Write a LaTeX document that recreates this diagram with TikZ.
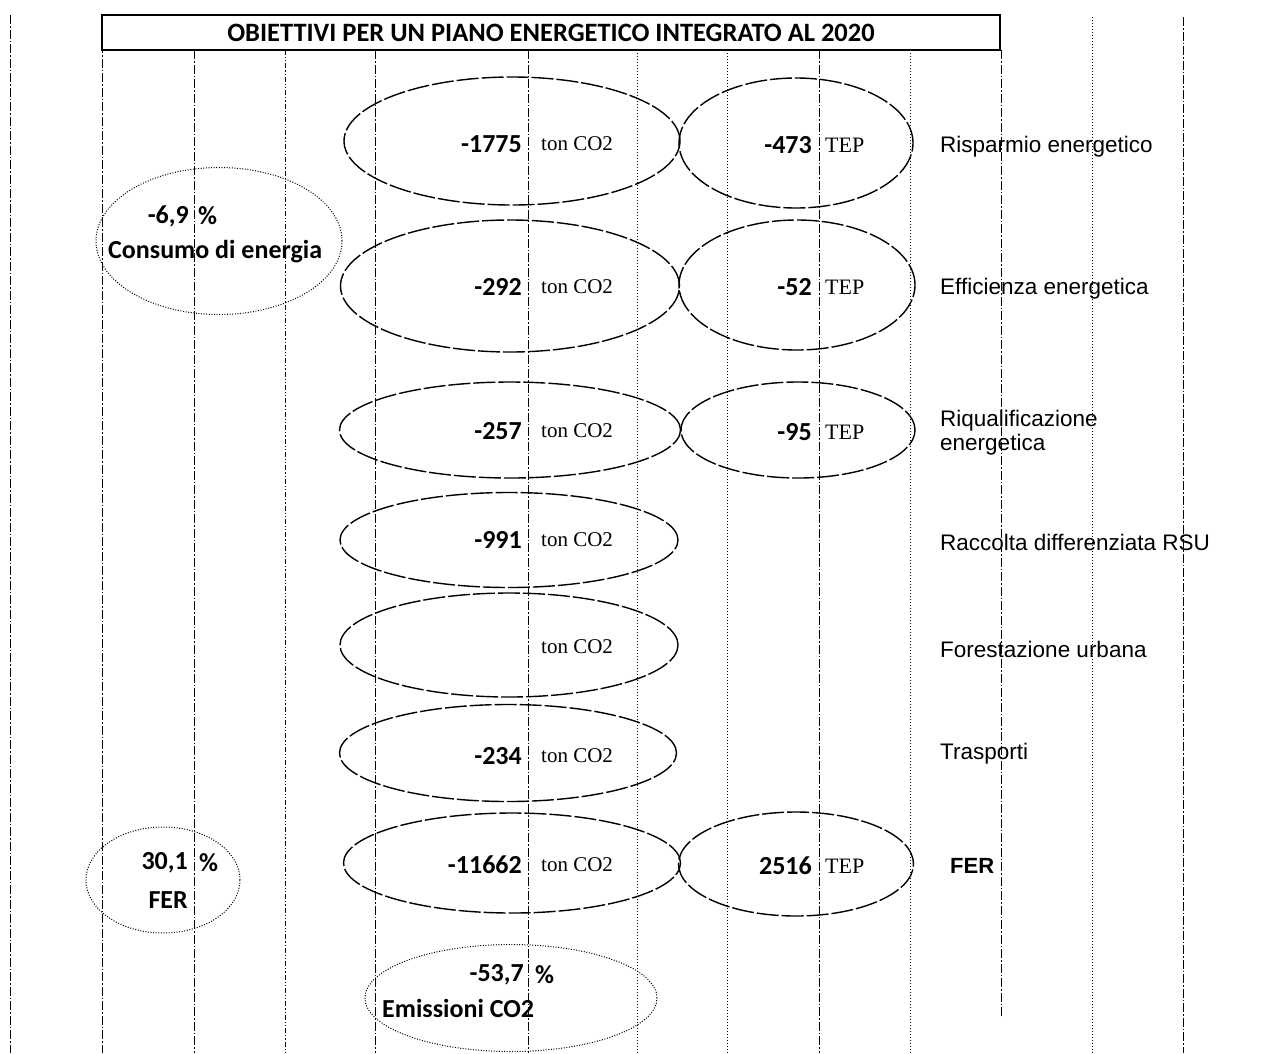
\documentclass[tikz,border=0pt]{standalone}
\usepackage{fontspec}
\setmainfont{Liberation Sans}
\newfontfamily\calib{Carlito}
\newfontfamily\tim{Liberation Serif}
\usetikzlibrary{shapes.geometric}

\begin{document}
\begin{tikzpicture}[x=1pt,y=-1pt,
  cell/.style={ellipse,draw,line width=1.4pt,dash pattern=on 22pt off 3pt,inner sep=0pt},
  goal/.style={ellipse,draw,line width=1pt,dash pattern=on 1pt off 1.6pt,inner sep=0pt},
  num/.style={anchor=east,inner sep=0pt,font=\calib\bfseries\fontsize{26}{28}\selectfont},
  pct/.style={anchor=west,inner sep=0pt,font=\calib\bfseries\fontsize{26}{28}\selectfont},
  unit/.style={anchor=west,inner sep=0pt,font=\tim\fontsize{21}{23}\selectfont},
  tep/.style={anchor=west,inner sep=0pt,font=\tim\fontsize{22}{24}\selectfont},
  lab/.style={anchor=west,inner sep=0pt,align=left,font=\fontsize{22.5}{24}\selectfont},
  ga/.style={line width=1pt,dash pattern=on 9pt off 2pt on 1.5pt off 2pt},
  gb/.style={line width=1pt,dash pattern=on 1.2pt off 1.8pt},
  gc/.style={line width=1pt,dash pattern=on 5pt off 2pt on 1.2pt off 2pt on 1.2pt off 2pt}]
\useasboundingbox (0,0) rectangle (1263,1053);
% grid
\draw[ga] (10,15) -- (10,1053);
\draw[ga] (102,15) -- (102,1053);
\draw[ga] (194,50) -- (194,1053);
\draw[gc] (285,50) -- (285,1053);
\draw[ga] (375,50) -- (375,1053);
\draw[ga] (528,50) -- (528,1053);
\draw[gb] (637,50) -- (637,1053);
\draw[gb] (727,50) -- (727,1053);
\draw[ga] (819,50) -- (819,1053);
\draw[gb] (910,50) -- (910,1053);
\draw[ga] (1001,50) -- (1001,1018);
\draw[gb] (1092,17) -- (1092,1053);
\draw[ga] (1183,17) -- (1183,1053);
\node (title) at (551,32.5) [draw,line width=1.4pt,minimum width=898,minimum height=35,inner sep=0pt,font=\calib\bfseries\fontsize{26.5}{28}\selectfont] {OBIETTIVI PER UN PIANO ENERGETICO INTEGRATO AL 2020};
% ellipses
\node (e1) at (512,141) [cell,minimum width=336,minimum height=128] {};
\node (t1) at (796,143) [cell,minimum width=234,minimum height=130] {};
\node (e2) at (510,286) [cell,minimum width=339,minimum height=132] {};
\node (t2) at (797,285) [cell,minimum width=236,minimum height=130] {};
\node (e3) at (510,430) [cell,minimum width=341,minimum height=96] {};
\node (t3) at (798,430) [cell,minimum width=234,minimum height=96] {};
\node (e4) at (509,540) [cell,minimum width=338,minimum height=95] {};
\node (e5) at (509,645) [cell,minimum width=338,minimum height=104] {};
\node (e6) at (508,753) [cell,minimum width=337,minimum height=97] {};
\node (e7) at (512,863) [cell,minimum width=337,minimum height=100] {};
\node (t7) at (796,864) [cell,minimum width=235,minimum height=104] {};
\node (cons) at (219,241) [goal,minimum width=246,minimum height=147] {};
\node (fer) at (163,880) [goal,minimum width=154,minimum height=106] {};
\node (emis) at (511,998) [goal,minimum width=292,minimum height=107] {};
% values
\node (n1) at (522,144) [num] {-1775};
\node (u1) at (541,144) [unit] {ton CO2};
\node (n2) at (522,287) [num] {-292};
\node (u2) at (541,287) [unit] {ton CO2};
\node (n3) at (522,431) [num] {-257};
\node (u3) at (541,431) [unit] {ton CO2};
\node (n4) at (522,540) [num] {-991};
\node (u4) at (541,540) [unit] {ton CO2};
\node (u5) at (541,647) [unit] {ton CO2};
\node (n6) at (522,756) [num] {-234};
\node (u6) at (541,756) [unit] {ton CO2};
\node (n7) at (522,865) [num] {-11662};
\node (u7) at (541,865) [unit] {ton CO2};
\node (m1) at (812,145) [num] {-473};
\node (p1) at (825,145) [tep] {TEP};
\node (m2) at (812,287) [num] {-52};
\node (p2) at (825,287) [tep] {TEP};
\node (m3) at (812,432) [num] {-95};
\node (p3) at (825,432) [tep] {TEP};
\node (m7) at (812,866) [num] {2516};
\node (p7) at (825,866) [tep] {TEP};
% targets
\node (v1) at (189,216) [num] {-6,9};
\node (w1) at (198,216) [pct] {\%};
\node (c1) at (108,252) [pct] {Consumo di energia};
\node (v2) at (188,863) [num] {30,1};
\node (w2) at (199,863) [pct] {\%};
\node (c2) at (188,900) [num] {FER};
\node (v3) at (524,975) [num] {-53,7};
\node (w3) at (535,975) [pct] {\%};
\node (c3) at (382,1008) [pct] {Emissioni CO2};
% labels
\node (l1) at (940,147) [lab] {Risparmio energetico};
\node (l2) at (940,289) [lab] {Efficienza energetica};
\node (l3) at (940,433) [lab] {Riqualificazione\\energetica};
\node (l4) at (940,542) [lab] {Raccolta differenziata RSU};
\node (l5) at (940,649) [lab] {Forestazione urbana};
\node (l6) at (940,754) [lab] {Trasporti};
\node (l7) at (950,866) [lab,font=\bfseries\fontsize{22}{24}\selectfont] {FER};
\end{tikzpicture}
\end{document}
